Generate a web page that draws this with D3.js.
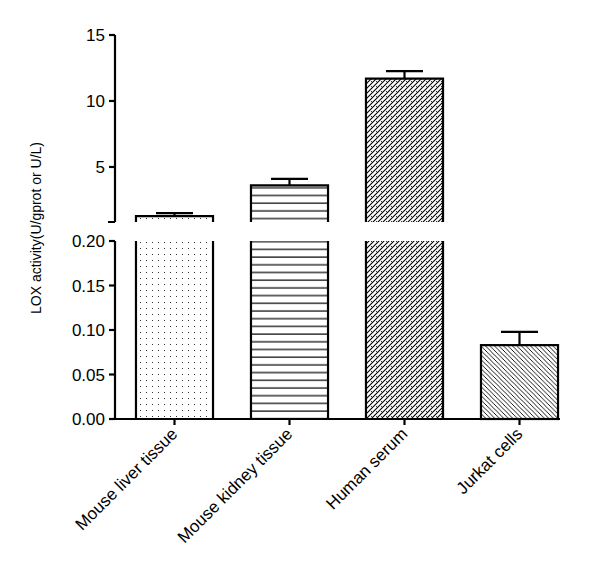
<!DOCTYPE html><html><head><script src="https://cdn.jsdelivr.net/npm/d3@7"></script>
<style>body{margin:0;background:#fff}</style></head><body><svg width="590" height="587"></svg><script>
const categories=["Mouse liver tissue","Mouse kidney tissue","Human serum","Jurkat cells"];
const values=[1.28,3.6,11.7,0.083];
const errors=[0.22,0.5,0.57,0.015];
const upperTicks=[5,10,15];
const lowerTicks=[0,0.05,0.10,0.15,0.20];
const svg=d3.select("svg");
const defs=svg.append("defs");
const x=d3.scaleBand().domain(categories).range([117,577]).paddingInner(0.33).paddingOuter(0.165);
const yL=d3.scaleLinear().domain([0,0.2]).range([419,241]);
const yU=d3.scaleLinear().domain([0.83,15]).range([222,35]);
let p=defs.append("pattern").attr("id","p0").attr("width",6).attr("height",6).attr("patternUnits","userSpaceOnUse");
p.append("rect").attr("x",2).attr("y",2).attr("width",1).attr("height",1).attr("fill","#333");
p=defs.append("pattern").attr("id","p1").attr("width",8).attr("height",7.7).attr("patternUnits","userSpaceOnUse");
p.append("line").attr("x1",0).attr("x2",8).attr("y1",3).attr("y2",3).attr("stroke","#000").attr("stroke-width",1.2);
p=defs.append("pattern").attr("id","p2").attr("width",5).attr("height",5).attr("patternUnits","userSpaceOnUse");
p.append("path").attr("d","M0,5L5,0M-1,1L1,-1M4,6L6,4").attr("stroke","#000").attr("stroke-width",1.1);
p.append("path").attr("d","M1,1L2,2").attr("stroke","#000").attr("stroke-width",0.8);
p=defs.append("pattern").attr("id","p3").attr("width",4.5).attr("height",4.5).attr("patternUnits","userSpaceOnUse");
p.append("path").attr("d","M0,0L4.5,4.5M-1,3.5L1,5.5M3.5,-1L5.5,1").attr("stroke","#000").attr("stroke-width",0.9);
categories.forEach((c,i)=>{
  const v=values[i],bx=x(c),w=x.bandwidth(),cx=bx+w/2,fill=`url(#p${i})`;
  const g=svg.append("g").attr("stroke","#000").attr("stroke-width",2.2).attr("fill","none");
  if(v>0.2){
    const t=yU(v);
    g.append("rect").attr("x",bx).attr("y",t).attr("width",w).attr("height",yU(0.83)-t).attr("fill",fill).attr("stroke","none");
    g.append("path").attr("d",`M${bx},${yU(0.83)}V${t}H${bx+w}V${yU(0.83)}`);
    g.append("rect").attr("x",bx).attr("y",yL(0.2)).attr("width",w).attr("height",yL(0)-yL(0.2)).attr("fill",fill).attr("stroke","none");
    g.append("path").attr("d",`M${bx},${yL(0.2)}V${yL(0)}M${bx+w},${yL(0.2)}V${yL(0)}`);
    const e=yU(v+errors[i]);
    g.append("path").attr("d",`M${cx},${t}V${e}M${cx-w*0.24},${e}H${cx+w*0.24}`);
  }else{
    const t=yL(v);
    g.append("rect").attr("x",bx).attr("y",t).attr("width",w).attr("height",yL(0)-t).attr("fill",fill);
    const e=yL(v+errors[i]);
    g.append("path").attr("d",`M${cx},${t}V${e}M${cx-w*0.24},${e}H${cx+w*0.24}`);
  }
});
const ax=svg.append("g").attr("stroke","#000").attr("stroke-width",2.2).attr("fill","none");
ax.append("path").attr("d",`M115,${yU(15)}V${yU(0.83)}M108,${yU(0.83)}H115M115,${yL(0.2)}V${yL(0)}H560`);
upperTicks.forEach(t=>ax.append("path").attr("d",`M109,${yU(t)}H115`));
lowerTicks.forEach(t=>ax.append("path").attr("d",`M109,${yL(t)}H115`));
categories.forEach(c=>ax.append("path").attr("d",`M${x(c)+x.bandwidth()/2},${yL(0)}V${yL(0)+6}`));
const tx=svg.append("g").attr("font-family","Liberation Sans, Arial").attr("font-size",17).attr("fill","#000");
upperTicks.forEach(t=>tx.append("text").attr("x",105).attr("y",yU(t)+6).attr("text-anchor","end").text(t));
lowerTicks.forEach(t=>tx.append("text").attr("x",105).attr("y",yL(t)+6).attr("text-anchor","end").text(t.toFixed(2)));
categories.forEach(c=>{const cx=x(c)+x.bandwidth()/2;
  tx.append("text").attr("transform",`translate(${cx+4},${yL(0)+16}) rotate(-45)`).attr("text-anchor","end").text(c);});
tx.append("text").attr("transform","translate(41,228) rotate(-90)").attr("text-anchor","middle").attr("font-size",14).text("LOX activity(U/gprot or U/L)");
</script></body></html>
